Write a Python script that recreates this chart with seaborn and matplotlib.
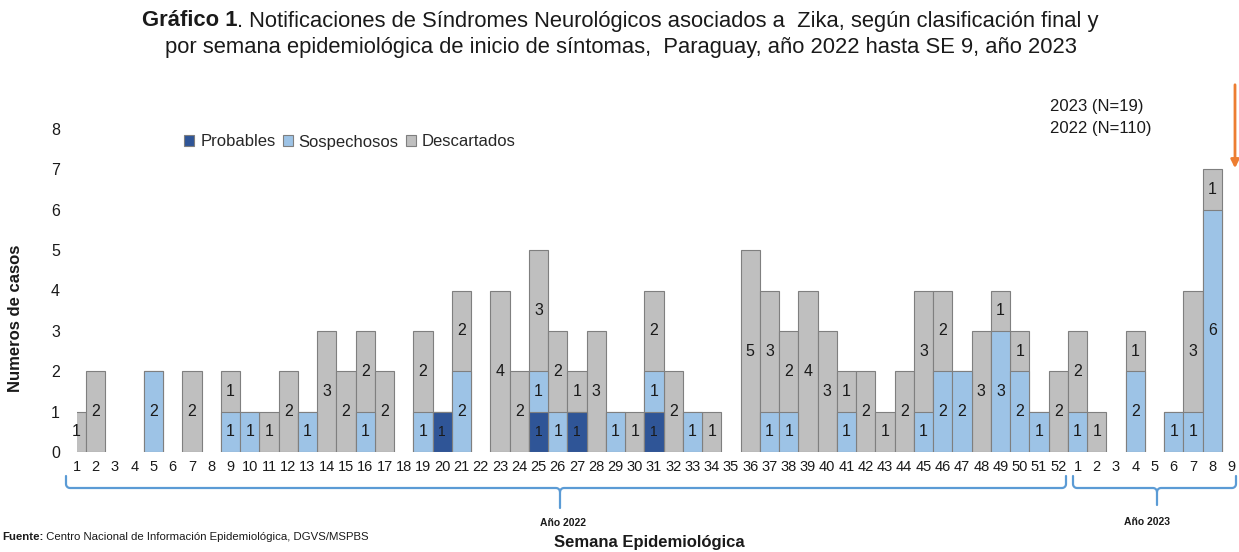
import numpy as np
import pandas as pd
import matplotlib
matplotlib.use("Agg")
import matplotlib.pyplot as plt
from matplotlib.patches import Patch
import seaborn as sns

# Semanas epidemiológicas de inicio de síntomas
semanas_2022 = list(range(1, 53))
semanas_2023 = list(range(1, 10))

# Casos por clasificación final (semanas 1..52 de 2022)
probables_2022 = [0, 0, 0, 0, 0, 0, 0, 0, 0, 0,
                  0, 0, 0, 0, 0, 0, 0, 0, 0, 1,
                  0, 0, 0, 0, 1, 0, 1, 0, 0, 0,
                  1, 0, 0, 0, 0, 0, 0, 0, 0, 0,
                  0, 0, 0, 0, 0, 0, 0, 0, 0, 0, 0, 0]
sospechosos_2022 = [0, 0, 0, 0, 2, 0, 0, 0, 1, 1,
                    0, 0, 1, 0, 0, 1, 0, 0, 1, 0,
                    2, 0, 0, 0, 1, 1, 0, 0, 1, 0,
                    1, 0, 1, 0, 0, 0, 1, 1, 0, 0,
                    1, 0, 0, 0, 1, 2, 2, 0, 3, 2, 1, 0]
descartados_2022 = [1, 2, 0, 0, 0, 0, 2, 0, 1, 0,
                    1, 2, 0, 3, 2, 2, 2, 0, 2, 0,
                    2, 0, 4, 2, 3, 2, 1, 3, 0, 1,
                    2, 2, 0, 1, 0, 5, 3, 2, 4, 3,
                    1, 2, 1, 2, 3, 2, 0, 3, 1, 1, 0, 2]

# Semanas 1..9 de 2023
probables_2023 = [0, 0, 0, 0, 0, 0, 0, 0, 0]
sospechosos_2023 = [1, 0, 0, 2, 0, 1, 1, 6, 0]
descartados_2023 = [2, 1, 0, 1, 0, 0, 3, 1, 0]

C_PROB = "#2F5597"
C_SOSP = "#9DC3E6"
C_DESC = "#BFBFBF"
C_EDGE = "#7F7F7F"
C_BRACE = "#5B9BD5"
C_TEXT = "#1A1A1A"

sns.set_theme(style="white")
plt.rcParams["font.family"] = ["Liberation Sans", "DejaVu Sans"]

claves = [f"2022-{s}" for s in semanas_2022] + [f"2023-{s}" for s in semanas_2023]
etiquetas = [str(s) for s in semanas_2022 + semanas_2023]

df = pd.DataFrame({
    "semana": claves,
    "Probables": probables_2022 + probables_2023,
    "Sospechosos": sospechosos_2022 + sospechosos_2023,
    "Descartados": descartados_2022 + descartados_2023,
})
df["hasta_sosp"] = df["Probables"] + df["Sospechosos"]
df["total"] = df["hasta_sosp"] + df["Descartados"]

W, H = 1239, 552
fig = plt.figure(figsize=(W / 100, H / 100), dpi=100)
ax = fig.add_axes([76.5 / W, 100 / H, 1155 / W, 323 / H])

# Barras apiladas: total, luego probables+sospechosos, luego probables
for col, color in [("total", C_DESC), ("hasta_sosp", C_SOSP), ("Probables", C_PROB)]:
    sub = df[df[col] > 0]
    sns.barplot(data=sub, x="semana", y=col, order=claves, color=color,
                saturation=1, width=1, edgecolor=C_EDGE, linewidth=0.8,
                errorbar=None, ax=ax)

ax.set_xlim(0, len(claves) - 1)
ax.set_ylim(0, 8)
ax.set_xticks(range(len(claves)))
ax.set_xticklabels(etiquetas, fontsize=10.5, color=C_TEXT)
ax.set_yticks(range(0, 9))
ax.set_yticklabels([str(v) for v in range(0, 9)], fontsize=11.5, color=C_TEXT)
ax.tick_params(axis="x", length=0, pad=6)
ax.tick_params(axis="y", length=0, pad=12)
ax.set_xlabel("")
ax.set_ylabel("")
for sp in ax.spines.values():
    sp.set_visible(False)

# Etiquetas de valor en cada segmento
for i, row in df.iterrows():
    p, s, d = row["Probables"], row["Sospechosos"], row["Descartados"]
    if p > 0:
        ax.text(i, p / 2, str(p), ha="center", va="center", fontsize=10, color=C_TEXT)
    if s > 0:
        ax.text(i, p + s / 2, str(s), ha="center", va="center", fontsize=11.5, color=C_TEXT)
    if d > 0:
        ax.text(i, p + s + d / 2, str(d), ha="center", va="center", fontsize=11.5, color=C_TEXT)

# Capa superior en píxeles para título, leyenda, llaves y notas
ov = fig.add_axes([0, 0, 1, 1], facecolor="none")
ov.set_xlim(0, W)
ov.set_ylim(H, 0)
ov.axis("off")

t1 = ov.text(0, 21, "Gráfico 1", fontsize=15.8, fontweight="bold", ha="left", va="center", color=C_TEXT)
t2 = ov.annotate(". Notificaciones de Síndromes Neurológicos asociados a  Zika, según clasificación final y",
                 xy=(1, 0), xycoords=t1, ha="left", va="bottom", fontsize=15.8, color=C_TEXT)
ov.text(621, 47, "por semana epidemiológica de inicio de síntomas,  Paraguay, año 2022 hasta SE 9, año 2023",
        fontsize=15.8, ha="center", va="center", color=C_TEXT)
fig.canvas.draw()
rend = fig.canvas.get_renderer()
ancho = t1.get_window_extent(rend).width + t2.get_window_extent(rend).width
t1.set_x(620 - ancho / 2)

# Leyenda
handles = [Patch(facecolor=c, edgecolor=C_EDGE, linewidth=0.8) for c in (C_PROB, C_SOSP, C_DESC)]
ov.legend(handles, ["Probables", "Sospechosos", "Descartados"], ncol=3, frameon=False,
          loc="center left", bbox_to_anchor=(176, 142), bbox_transform=ov.transData,
          borderpad=0, fontsize=12, handlelength=0.6, handleheight=0.6,
          handletextpad=0.35, columnspacing=0.45)

# Totales por año
ov.text(1050, 107, "2023 (N=19)", fontsize=12, ha="left", va="center", color=C_TEXT)
ov.text(1050, 128, "2022 (N=110)", fontsize=12, ha="left", va="center", color=C_TEXT)

# Flecha de la semana actual
ov.annotate("", xy=(1235, 171), xytext=(1235, 82),
            arrowprops=dict(arrowstyle="-|>", color="#ED7D31", lw=2, mutation_scale=12))


def llave(x0, x1, xm, y=488, y_top=476, y_bot=508, r=4):
    """Llave horizontal con extremos curvados hacia arriba y pico central hacia abajo."""
    th = np.linspace(0, np.pi / 2, 8)
    izq = [(x0, y_top)] + [(x0 + r - r * np.cos(t), y - r + r * np.sin(t)) for t in th]
    mid_l = [(xm - r + r * np.sin(t), y + r - r * np.cos(t)) for t in th]
    mid_r = [(xm + r - r * np.sin(t), y + r - r * np.cos(t)) for t in th][::-1]
    der = [(x1 - r + r * np.cos(t), y - r + r * np.sin(t)) for t in th][::-1] + [(x1, y_top)]
    a = np.array(izq + mid_l + [(xm, y_bot)])
    b = np.array([(xm, y + r)] + mid_r + der)
    for seg in (a, b):
        ov.plot(seg[:, 0], seg[:, 1], color=C_BRACE, lw=1.6, solid_capstyle="round")


llave(66, 1066, 560)
llave(1073, 1236, 1157, y_bot=505)
ov.text(563, 523, "Año 2022", fontsize=7.5, fontweight="bold", ha="center", va="center", color=C_TEXT)
ov.text(1147, 522, "Año 2023", fontsize=7.5, fontweight="bold", ha="center", va="center", color=C_TEXT)

# Ejes
ov.text(649, 543, "Semana Epidemiológica", fontsize=12, fontweight="bold", ha="center", va="center", color=C_TEXT)
ov.text(16, 318, "Numeros de casos", fontsize=12, fontweight="bold", rotation=90,
        ha="center", va="center", color=C_TEXT)

# Fuente
f1 = ov.text(2, 537, "Fuente:", fontsize=8.2, fontweight="bold", ha="left", va="center", color=C_TEXT)
ov.annotate(" Centro Nacional de Información Epidemiológica, DGVS/MSPBS", xy=(1, 0), xycoords=f1,
            ha="left", va="bottom", fontsize=8.2, color=C_TEXT)

fig.savefig("out.png", dpi=100)
